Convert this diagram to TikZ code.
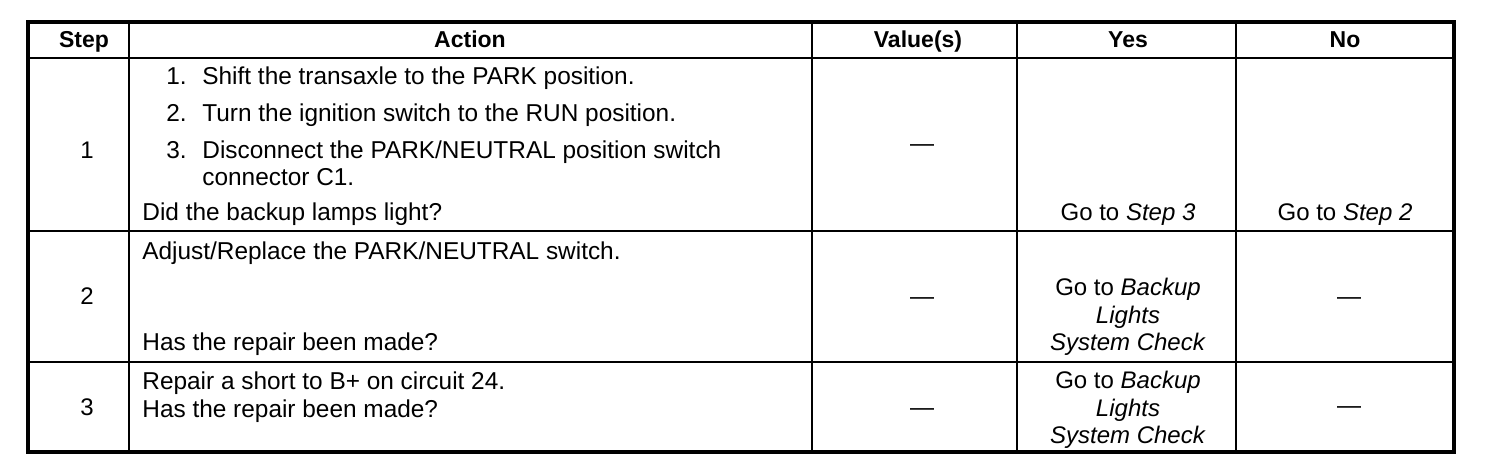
\documentclass[tikz,border=0pt]{standalone}
\usepackage{fontspec}
\setmainfont{Liberation Sans}
\begin{document}
\begin{tikzpicture}[
    x=0.5pt, y=-0.5pt,
    txt/.style={font=\fontsize{12.2}{13.8}\selectfont, inner sep=0pt, anchor=base west},
    head/.style={font=\fontsize{11.5}{13.8}\selectfont\bfseries, inner sep=0pt, anchor=base},
    mid/.style={font=\fontsize{12}{13.8}\selectfont, inner sep=0pt, anchor=base},
    goto/.style={font=\fontsize{12}{13.8}\selectfont, inner sep=0pt, align=center, anchor=base},
    rule/.style={line width=1.4pt},
    frame/.style={line width=1.7pt}
]
    \useasboundingbox (0,0) rectangle (1504,474);

    % Gitter der Tabelle
    \draw[frame] (28,22) rectangle (1454,452);
    \foreach \x in {129,812,1017,1236}
        \draw[rule] (\x,22) -- (\x,452);
    \foreach \y in {58,231,362}
        \draw[rule] (28,\y) -- (1454,\y);

    % Kopfzeile
    \node[head] (hstep) at (84,48) {Step};
    \node[head] (haction) at (470,48) {Action};
    \node[head] (hvalue) at (918,48) {Value(s)};
    \node[head] (hyes) at (1128,48) {Yes};
    \node[head] (hno) at (1345,48) {No};

    % Schritt 1
    \node[mid] (step1) at (87,159) {1};
    \node[txt] (n1a) at (166,85) {1.};
    \node[txt] (a1a) at (202,85) {Shift the transaxle to the PARK position.};
    \node[txt] (n1b) at (166,122) {2.};
    \node[txt] (a1b) at (202,122) {Turn the ignition switch to the RUN position.};
    \node[txt] (n1c) at (166,159) {3.};
    \node[txt, align=left] (a1c) at (202,186) {Disconnect the PARK/NEUTRAL position switch\\connector C1.};
    \node[txt] (q1) at (142,221) {Did the backup lamps light?};
    \node[mid] (v1) at (922,152) {—};
    \node[goto] (y1) at (1128,221) {Go to \textit{Step 3}};
    \node[goto] (no1) at (1345,221) {Go to \textit{Step 2}};

    % Schritt 2
    \node[mid] (step2) at (87,305) {2};
    \node[txt] (a2) at (142,260) {Adjust/Replace the PARK/NEUTRAL switch.};
    \node[txt] (q2) at (142,351) {Has the repair been made?};
    \node[mid] (v2) at (922,305) {—};
    \node[goto] (y2) at (1128,351) {Go to \textit{Backup}\\\textit{Lights}\\\textit{System Check}};
    \node[mid] (no2) at (1349,305) {—};

    % Schritt 3
    \node[mid] (step3) at (87,416) {3};
    \node[txt] (a3) at (142,390) {Repair a short to B+ on circuit 24.};
    \node[txt] (q3) at (142,418) {Has the repair been made?};
    \node[mid] (v3) at (922,416) {—};
    \node[goto] (y3) at (1128,444) {Go to \textit{Backup}\\\textit{Lights}\\\textit{System Check}};
    \node[mid] (no3) at (1349,414) {—};
\end{tikzpicture}
\end{document}
